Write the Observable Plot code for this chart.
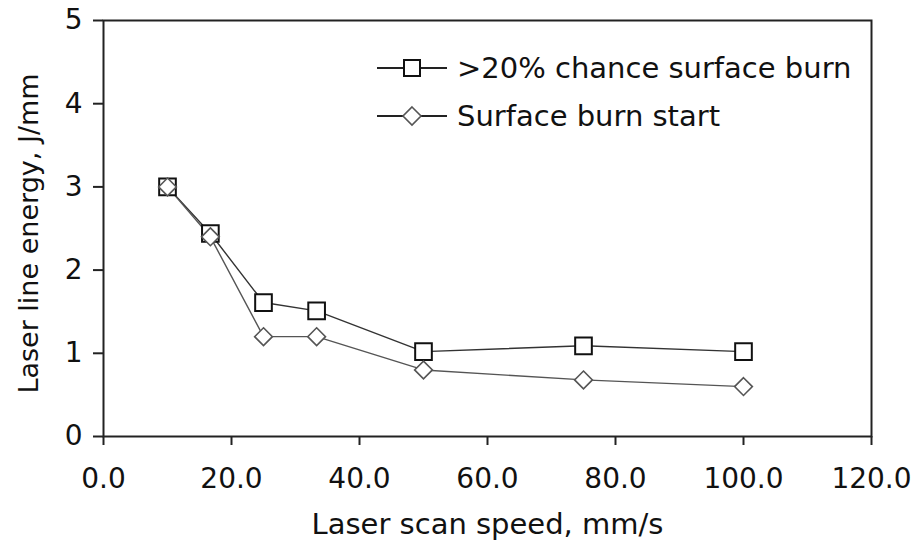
<!DOCTYPE html>
<html>
<head>
<meta charset="utf-8">
<script src="https://cdn.jsdelivr.net/npm/d3@7"></script>
<script src="https://cdn.jsdelivr.net/npm/@observablehq/plot@0.6"></script>
<style>
  html, body { margin: 0; padding: 0; background: #fff; }
  #chart { position: relative; width: 916px; height: 541px; }
  #legend {
    position: absolute; left: 377px; top: 44px;
    font-family: "DejaVu Sans", sans-serif; font-size: 29px; color: #111;
  }
  #legend .row { display: flex; align-items: center; height: 48px; white-space: nowrap; }
  #legend svg { display: block; margin-right: 10px; }
</style>
</head>
<body>
<div id="chart"></div>
<script>
// Laser scan speed (mm/s)
const speed = [10, 16.7, 25, 33.3, 50, 75, 100];
// Laser line energy (J/mm) for each burn criterion
const chanceBurn = [3.0, 2.44, 1.61, 1.51, 1.02, 1.09, 1.02];
const burnStart = [3.0, 2.40, 1.20, 1.20, 0.80, 0.68, 0.60];

const seriesNames = [">20% chance surface burn", "Surface burn start"];
const xTicks = [0, 20, 40, 60, 80, 100, 120];
const yTicks = [0, 1, 2, 3, 4, 5];
const xLabel = "Laser scan speed, mm/s";
const yLabel = "Laser line energy, J/mm";

const rowsA = speed.map((s, i) => ({speed: s, energy: chanceBurn[i]}));
const rowsB = speed.map((s, i) => ({speed: s, energy: burnStart[i]}));

const axisColor = "#222";

const chart = Plot.plot({
  width: 916,
  height: 541,
  marginLeft: 103,
  marginRight: 45,
  marginTop: 20,
  marginBottom: 105,
  style: {fontFamily: "DejaVu Sans, sans-serif", fontSize: "28px", color: "#111", background: "#fff", overflow: "visible"},
  x: {domain: [0, 120]},
  y: {domain: [0, 5]},
  marks: [
    Plot.axisX({ticks: xTicks, tickFormat: d => d.toFixed(1), tickSize: 9, tickPadding: 23,
      stroke: axisColor, strokeWidth: 2, label: null, fontSize: 28}),
    Plot.axisY({ticks: yTicks, tickFormat: d => String(d), tickSize: 10, tickPadding: 11,
      stroke: axisColor, strokeWidth: 2, label: null, fontSize: 28}),
    Plot.frame({stroke: axisColor, strokeWidth: 2}),
    Plot.line(rowsA, {x: "speed", y: "energy", stroke: "#333", strokeWidth: 1.4}),
    Plot.line(rowsB, {x: "speed", y: "energy", stroke: "#555", strokeWidth: 1.4}),
    Plot.dot(rowsA, {x: "speed", y: "energy", symbol: "square", r: 9.4, fill: "#fff", stroke: "#111", strokeWidth: 2}),
    Plot.dot(rowsB, {x: "speed", y: "energy", symbol: "diamond2", r: 8.0, fill: "#fff", stroke: "#555", strokeWidth: 1.6}),
    Plot.text([xLabel], {text: d => d, frameAnchor: "bottom", dy: 97, lineAnchor: "bottom",
      textAnchor: "middle", fontSize: 29, fill: "#111"}),
    Plot.text([yLabel], {text: d => d, frameAnchor: "left", dx: -66, dy: 5, rotate: -90,
      textAnchor: "middle", lineAnchor: "bottom", fontSize: 27, fill: "#111"})
  ]
});

const host = document.getElementById("chart");
host.appendChild(chart);

// Legend swatches: a short line through each series' symbol
const legend = document.createElement("div");
legend.id = "legend";
const swatches = [
  `<path d="M27,4h16v16h-16z" fill="#fff" stroke="#111" stroke-width="2"/>`,
  `<path d="M35,3l9,9l-9,9l-9,-9z" fill="#fff" stroke="#555" stroke-width="1.6"/>`
];
seriesNames.forEach((name, i) => {
  const row = document.createElement("div");
  row.className = "row";
  row.innerHTML =
    `<svg width="70" height="24" viewBox="0 0 70 24">` +
    `<line x1="0" x2="70" y1="12" y2="12" stroke="#222" stroke-width="2"/>` +
    swatches[i] + `</svg><span>${name.replace(">", "&gt;")}</span>`;
  legend.appendChild(row);
});
host.appendChild(legend);
</script>
</body>
</html>
